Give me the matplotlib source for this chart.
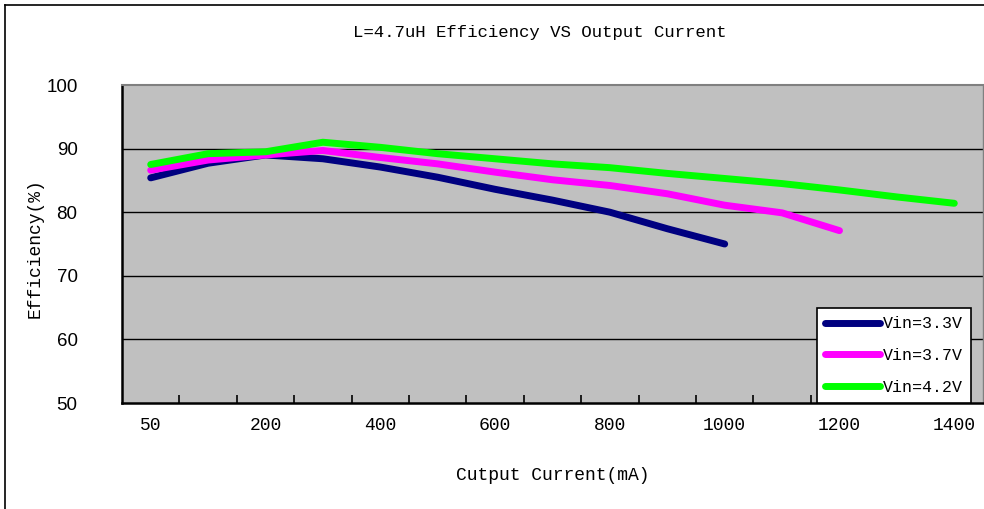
import numpy as np
import matplotlib.pyplot as plt
from matplotlib.lines import Line2D

# output current categories (mA), equally spaced like an Excel line chart
currents = [50, 100, 200, 300, 400, 500, 600, 700, 800, 900, 1000, 1100, 1200, 1300, 1400]
eff_33 = [85.4, 87.7, 89.0, 88.4, 87.1, 85.5, 83.6, 81.9, 80.0, 77.4, 75.0]
eff_37 = [86.6, 88.2, 89.0, 89.7, 88.6, 87.6, 86.3, 85.1, 84.2, 82.9, 81.1, 79.9, 77.1]
eff_42 = [87.5, 89.2, 89.5, 91.0, 90.2, 89.2, 88.4, 87.6, 87.0, 86.1, 85.3, 84.5, 83.5, 82.4, 81.4]
series_names = ["Vin=3.3V", "Vin=3.7V", "Vin=4.2V"]
series_colors = ["#000080", "#FF00FF", "#00FF00"]
y_ticks = [50, 60, 70, 80, 90, 100]

mono = "Liberation Mono"

fig = plt.figure(figsize=(9.84, 5.09), dpi=100)
fig.patch.set_facecolor("white")

# outer chart border (cut off at right/bottom in reference)
fig.add_artist(Line2D([5/984, 1.0], [1-5/509, 1-5/509], color="black", lw=1.2))
fig.add_artist(Line2D([5/984, 5/984], [0, 1-5/509], color="black", lw=1.2))

ax = fig.add_axes([122/984, 1-403/509, (983-122)/984, (403-85)/509])
ax.set_facecolor("#C0C0C0")

idx = np.arange(len(currents))
for vals, name, col in zip([eff_33, eff_37, eff_42], series_names, series_colors):
    ax.plot(idx[:len(vals)], vals, color=col, lw=5, solid_capstyle="round",
            solid_joinstyle="round", label=name, zorder=3)

ax.set_xlim(-0.5, len(currents) - 0.5)
ax.set_ylim(50, 100)
ax.set_yticks(y_ticks)
ax.set_yticklabels([str(v) for v in y_ticks], fontsize=13.5, family="Liberation Sans")
ax.tick_params(axis="y", length=0, pad=32)
for v in y_ticks[1:-1]:
    ax.axhline(v, color="black", lw=1.0, zorder=1)

ax.set_xticks(idx[::2])
ax.set_xticklabels([str(c) for c in currents[::2]], fontsize=13, family=mono)
ax.set_xticks(idx[:-1] + 0.5, minor=True)
ax.tick_params(axis="x", which="major", length=0, pad=10)
ax.tick_params(axis="x", which="minor", direction="in", length=6, width=1.2, color="black")

ax.spines["left"].set_color("black")
ax.spines["left"].set_linewidth(1.8)
ax.spines["bottom"].set_color("black")
ax.spines["bottom"].set_linewidth(1.8)
ax.spines["top"].set_color("#808080")
ax.spines["top"].set_linewidth(1.5)
ax.spines["right"].set_color("#808080")
ax.spines["right"].set_linewidth(1.0)

fig.text(540/984, 1-33/509, "L=4.7uH Efficiency VS Output Current", ha="center", va="center",
         fontsize=12.5, family=mono)
fig.text(553/984, 1-475/509, "Cutput Current(mA)", ha="center", va="center",
         fontsize=13, family=mono)
fig.text(35/984, 1-248/509, "Efficiency(%)", ha="center", va="center", rotation=90,
         fontsize=13, family=mono)

leg = ax.legend(loc="lower right", bbox_to_anchor=((971-122)/861, 0), frameon=True,
                fancybox=False, framealpha=1, edgecolor="black", facecolor="white",
                prop={"family": mono, "size": 12}, handlelength=3.3, handletextpad=0.15,
                labelspacing=1.0, borderpad=0.5, borderaxespad=0)
leg.get_frame().set_linewidth(1.2)
leg.set_zorder(5)

fig.savefig("out.png", dpi=100)
